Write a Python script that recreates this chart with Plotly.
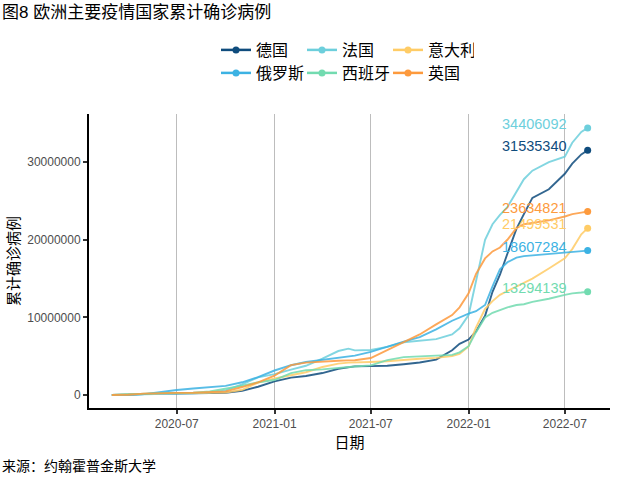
import plotly.graph_objects as go
import pandas as pd

# ---------------- data (cumulative confirmed cases, in millions) ----------------
dates = [
    "2020-03-01", "2020-04-01", "2020-05-01", "2020-06-01", "2020-07-01", "2020-08-01",
    "2020-09-01", "2020-10-01", "2020-11-01", "2020-12-01", "2021-01-01", "2021-02-01",
    "2021-03-01", "2021-04-01", "2021-05-01", "2021-05-20", "2021-06-01", "2021-07-01",
    "2021-08-01", "2021-09-01", "2021-10-01", "2021-11-01", "2021-12-01", "2021-12-15",
    "2022-01-01", "2022-01-15", "2022-02-01", "2022-02-15", "2022-03-01", "2022-03-15",
    "2022-04-01", "2022-04-15", "2022-05-01", "2022-06-01", "2022-07-01", "2022-07-15",
    "2022-08-01", "2022-08-13",
]

germany = [0.0001, 0.077, 0.163, 0.183, 0.196, 0.21, 0.245, 0.29, 0.53, 1.07, 1.76, 2.25,
           2.45, 2.83, 3.39, 3.61, 3.69, 3.73, 3.78, 3.97, 4.19, 4.56, 5.77, 6.6,
           7.15, 8.2, 10.2, 13.3, 15.5, 18.2, 21.4, 23.3, 25.4, 26.5, 28.5, 29.8,
           31.0, 31.53534]
france = [0.0001, 0.057, 0.167, 0.189, 0.203, 0.225, 0.31, 0.6, 1.37, 2.27, 2.70, 3.27,
          3.77, 4.7, 5.67, 5.98, 5.75, 5.80, 6.2, 6.8, 7.0, 7.2, 7.8, 8.6,
          10.3, 14.5, 20.0, 22.0, 23.2, 24.2, 26.2, 27.8, 28.9, 30.0, 30.7, 32.5,
          33.9, 34.406092]
italy = [0.0017, 0.11, 0.205, 0.233, 0.241, 0.248, 0.27, 0.315, 0.68, 1.6, 2.13, 2.56,
         2.94, 3.61, 4.04, 4.17, 4.22, 4.26, 4.36, 4.54, 4.68, 4.79, 5.03, 5.3,
         6.27, 8.7, 11.1, 12.1, 12.9, 13.4, 14.0, 14.4, 15.0, 16.3, 17.6, 18.8,
         20.7, 21.499531]
russia = [0.00002, 0.0028, 0.114, 0.415, 0.654, 0.84, 1.0, 1.18, 1.64, 2.3, 3.16, 3.84,
          4.26, 4.56, 4.81, 4.96, 5.07, 5.56, 6.27, 6.88, 7.45, 8.45, 9.57, 10.0,
          10.5, 10.8, 11.6, 14.0, 16.2, 17.1, 17.7, 17.9, 18.0, 18.2, 18.3, 18.4,
          18.5, 18.607284]
spain = [0.00008, 0.1, 0.215, 0.24, 0.25, 0.29, 0.46, 0.78, 1.19, 1.65, 1.93, 2.82,
         3.2, 3.3, 3.52, 3.62, 3.68, 3.82, 4.5, 4.88, 4.96, 5.02, 5.17, 5.5,
         6.29, 8.1, 10.0, 10.6, 11.0, 11.3, 11.6, 11.7, 12.0, 12.4, 12.9, 13.1,
         13.2, 13.294139]
uk = [0.00004, 0.03, 0.18, 0.26, 0.28, 0.3, 0.34, 0.47, 1.03, 1.64, 2.5, 3.85,
      4.18, 4.35, 4.42, 4.46, 4.49, 4.77, 5.8, 6.8, 7.8, 9.1, 10.3, 11.3,
      13.1, 15.6, 17.6, 18.5, 19.0, 20.0, 21.5, 22.0, 22.2, 22.5, 23.0, 23.3,
      23.5, 23.634821]

countries = ["德国", "法国", "意大利", "俄罗斯", "西班牙", "英国"]
series = [germany, france, italy, russia, spain, uk]
colors = ["#0f4c7d", "#6dcfdc", "#ffcc66", "#3cb2e3", "#72dbb0", "#fd9a3d"]
legend_ids = ["legend", "legend", "legend", "legend2", "legend2", "legend2"]

x_tickvals = ["2020-07-01", "2021-01-01", "2021-07-01", "2022-01-01", "2022-07-01"]
x_ticktext = ["2020-07", "2021-01", "2021-07", "2022-01", "2022-07"]
y_tickvals = [0, 10000000, 20000000, 30000000]
y_ticktext = ["0", "10000000", "20000000", "30000000"]

FONT = "Liberation Sans, Arial, Noto Sans CJK SC, sans-serif"
CJK = "Noto Sans CJK SC, sans-serif"

W, H = 640, 480
ML, MR, MT, MB = 89, 30, 114, 72
PW, PH = W - ML - MR, H - MT - MB

fig = go.Figure()

for name, vals, col, lg in zip(countries, series, colors, legend_ids):
    y = [v * 1e6 for v in vals]
    fig.add_trace(go.Scatter(
        x=dates, y=y, mode="lines", name=name, legendgroup=name,
        line=dict(color=col, width=1.9), opacity=0.85, showlegend=False,
        hoverinfo="skip",
    ))
    fig.add_trace(go.Scatter(
        x=[dates[-1]], y=[y[-1]], mode="lines+markers", name=name, legendgroup=name,
        line=dict(color=col, width=2.5), marker=dict(color=col, size=7),
        showlegend=True, legend=lg,
    ))
    label_x = (pd.Timestamp(dates[-1]) - pd.Timedelta(days=35)).strftime("%Y-%m-%d")
    fig.add_annotation(
        x=label_x, y=y[-1], text=str(round(y[-1])), showarrow=False,
        xanchor="right", yanchor="middle", yshift=4,
        font=dict(family=FONT, size=14.5, color=col),
    )

# source note
fig.add_annotation(
    xref="paper", yref="paper", x=-ML / PW, y=(PH - (465 - MT)) / PH,
    xanchor="left", yanchor="middle", showarrow=False,
    text="来源：约翰霍普金斯大学", font=dict(family=CJK, size=14, color="black"),
)
# y-axis title
fig.add_annotation(
    xref="paper", yref="paper", x=(12 - ML) / PW, y=0.5,
    xanchor="center", yanchor="middle", showarrow=False, textangle=-90,
    text="累计确诊病例", font=dict(family=CJK, size=15, color="black"),
)

legend_common = dict(
    orientation="h", xref="container", yref="container", xanchor="left", yanchor="middle",
    bgcolor="rgba(0,0,0,0)", font=dict(family=CJK, size=16, color="black"),
    entrywidth=41, entrywidthmode="pixels", itemwidth=30, traceorder="normal",
)

fig.update_layout(
    width=W, height=H,
    margin=dict(l=ML, r=MR, t=MT, b=MB, autoexpand=False),
    paper_bgcolor="white", plot_bgcolor="white",
    font=dict(family=FONT, color="black"),
    title=dict(
        text="图8 欧洲主要疫情国家累计确诊病例", x=2 / W, xref="container", xanchor="left",
        y=1 - 12 / H, yref="container", yanchor="middle",
        font=dict(family=FONT, size=17, color="black"),
    ),
    legend=dict(x=216 / W, y=1 - 50 / H, **legend_common),
    legend2=dict(x=216 / W, y=1 - 73 / H, **legend_common),
    xaxis=dict(
        type="date", range=["2020-01-18", "2022-09-24"], automargin=False,
        tickvals=x_tickvals, ticktext=x_ticktext,
        showgrid=True, gridcolor="#bdbdbd", gridwidth=1,
        showline=True, linecolor="black", linewidth=2,
        ticks="outside", ticklen=4, tickwidth=1.5, tickcolor="#333333",
        tickfont=dict(family=FONT, size=12, color="#4d4d4d"),
        title=dict(text="日期", font=dict(family=CJK, size=15, color="black"), standoff=1),
        zeroline=False,
    ),
    yaxis=dict(
        range=[-1.67e6, 36.2e6], automargin=False,
        tickvals=y_tickvals, ticktext=y_ticktext,
        showgrid=False, zeroline=False,
        showline=True, linecolor="black", linewidth=2,
        ticks="outside", ticklen=4, tickwidth=1.5, tickcolor="#333333",
        tickfont=dict(family=FONT, size=12, color="#4d4d4d"),
    ),
)

fig.write_html(
    "out.html",
    config={"displayModeBar": False},
    post_script="document.body.style.margin='0';",
)
